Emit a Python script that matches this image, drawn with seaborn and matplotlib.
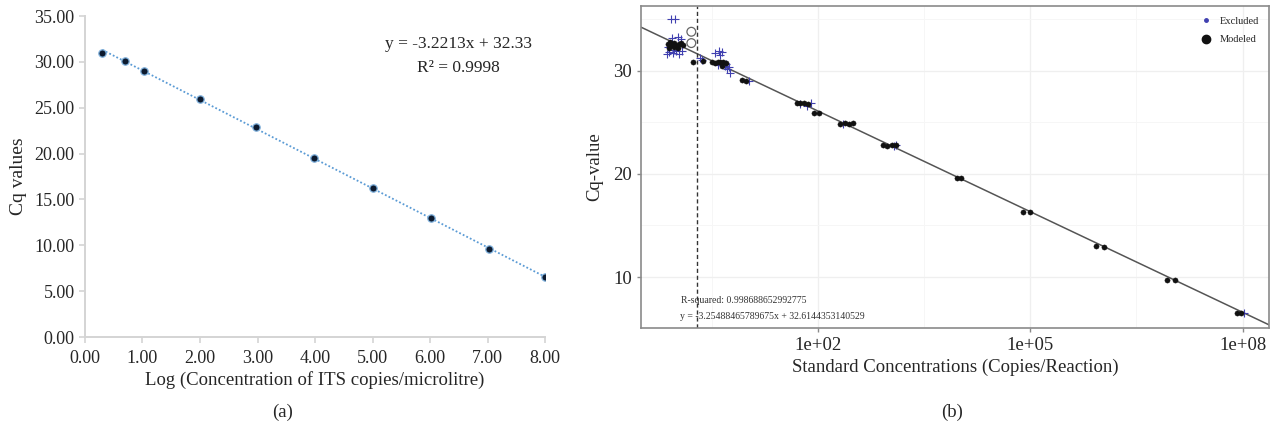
import numpy as np
import pandas as pd
import matplotlib
matplotlib.use("Agg")
import matplotlib.pyplot as plt
from matplotlib.lines import Line2D
from matplotlib.ticker import FixedLocator, NullFormatter
import seaborn as sns

sns.set_theme(style="white")
plt.rcParams['font.family'] = ['Liberation Serif', 'DejaVu Serif']

# (a) standard curve, log concentration vs Cq
log_conc = [0.30, 0.70, 1.03, 2.00, 2.97, 3.98, 5.00, 6.02, 7.02, 8.00]
cq_vals = [31.0, 30.1, 29.05, 25.9, 22.85, 19.55, 16.25, 12.95, 9.62, 6.5]
eq_a = "y = -3.2213x + 32.33"
r2_a = "R² = 0.9998"

# (b) standard curve, log10 of copies/reaction
mod_log = [-0.12, -0.09, -0.06, -0.03, 0.00, 0.03, 0.06, 0.09, -0.10, -0.04, 0.02,
           0.23, 0.38, 0.50, 0.54, 0.58, 0.62, 0.66, 0.70, 0.64, 0.93, 0.98,
           1.70, 1.75, 1.80, 1.86, 1.94, 2.01, 2.31, 2.38, 2.44, 2.50,
           2.92, 2.98, 3.04, 3.10, 3.96, 4.02, 4.90, 5.00, 5.93, 6.04,
           6.93, 7.04, 7.92, 7.98]
mod_cq = [32.6, 32.8, 32.5, 32.7, 32.4, 32.6, 32.7, 32.5, 32.2, 32.3, 32.2,
          30.9, 31.0, 30.9, 30.8, 30.9, 30.85, 30.9, 30.8, 30.5, 29.1, 29.0,
          26.9, 26.85, 26.9, 26.8, 25.9, 25.9, 24.85, 24.9, 24.85, 24.9,
          22.8, 22.75, 22.8, 22.8, 19.6, 19.6, 16.35, 16.3, 13.0, 12.9,
          9.7, 9.7, 6.5, 6.5]
ex_log = [-0.08, -0.02, -0.13, -0.10, -0.05, 0.00, 0.04, -0.12, -0.06, 0.02, 0.06,
          -0.03, 0.08, 0.33, 0.36, 0.55, 0.60, 0.65, 0.62, 0.58, 0.68, 0.70,
          0.72, 0.76, 0.74, 1.02, 1.90, 1.75, 1.85, 2.35, 3.08, 3.10, 8.02]
ex_cq = [35.0, 35.0, 31.6, 31.8, 31.7, 31.9, 31.6, 32.3, 33.2, 33.3, 33.1,
         32.0, 31.9, 31.3, 31.1, 31.7, 31.9, 31.8, 31.5, 30.6, 30.5, 30.7,
         30.2, 29.8, 30.4, 29.0, 26.9, 26.8, 26.6, 24.8, 22.7, 22.8, 6.5]
out_log = [0.21, 0.21]
out_cq = [33.8, 32.7]
slope_b = -3.25488465789675
icept_b = 32.6144353140529
lod_log = 0.29

fig = plt.figure(figsize=(12.72, 4.28), dpi=100)

# ---------- panel (a) ----------
ax1 = fig.add_axes([0.0668, 0.2126, 0.3617, 0.75])
df_a = pd.DataFrame({"x": log_conc, "y": cq_vals})
sns.regplot(data=df_a, x="x", y="y", ax=ax1, ci=None, scatter=False,
            line_kws=dict(color="#5b9bd5", lw=1.3, ls=(0, (1, 1.2))))
sns.scatterplot(data=df_a, x="x", y="y", ax=ax1, color="#0d1a2e", s=28,
                edgecolor="#7fb0dc", linewidth=0.9, zorder=3)
ax1.set_xlim(0, 8)
ax1.set_ylim(0, 35)
ax1.set_xticks(np.arange(0, 9, 1))
ax1.set_yticks(np.arange(0, 36, 5))
ax1.xaxis.set_major_formatter(lambda v, p: f"{v:.2f}")
ax1.yaxis.set_major_formatter(lambda v, p: f"{v:.2f}")
for s in ["top", "right"]:
    ax1.spines[s].set_visible(False)
for s in ["left", "bottom"]:
    ax1.spines[s].set_color("#d4d4d4")
    ax1.spines[s].set_linewidth(1.4)
ax1.tick_params(axis="both", length=4, width=1.2, color="#d4d4d4",
                labelsize=13, labelcolor="#262626", bottom=True, left=True)
ax1.tick_params(axis="x", pad=5)
ax1.set_xlabel("Log (Concentration of ITS copies/microlitre)", fontsize=13.5,
               color="#262626", labelpad=3)
ax1.set_ylabel("Cq values", fontsize=14, color="#262626", labelpad=5)
ax1.text(6.5, 32.0, eq_a, ha="center", va="center", fontsize=12.5, color="#262626")
ax1.text(6.5, 29.3, r2_a, ha="center", va="center", fontsize=12.5, color="#262626")
fig.text(283 / 1272, 1 - 412 / 428, "(a)", ha="center", va="center", fontsize=13.5)

# ---------- panel (b) ----------
ax2 = fig.add_axes([0.504, 0.2336, 0.494, 0.7524])
df_mod = pd.DataFrame({"conc": np.power(10.0, mod_log), "cq": mod_cq})
df_ex = pd.DataFrame({"conc": np.power(10.0, ex_log), "cq": ex_cq})
df_out = pd.DataFrame({"conc": np.power(10.0, out_log), "cq": out_cq})

ax2.set_xscale("log")
ax2.set_xlim(10 ** -0.5, 10 ** 8.38)
ax2.set_ylim(5.05, 36.3)
ax2.set_xticks([1e2, 1e5, 1e8])
ax2.set_xticklabels(["1e+02", "1e+05", "1e+08"])
ax2.xaxis.set_minor_locator(FixedLocator([10 ** 0.5, 10 ** 3.5, 10 ** 6.5]))
ax2.xaxis.set_minor_formatter(NullFormatter())
ax2.set_yticks([10, 20, 30])
ax2.yaxis.set_minor_locator(FixedLocator([15, 25, 35]))
ax2.grid(True, which="major", color="#efefef", lw=0.9)
ax2.grid(True, which="minor", color="#f6f6f6", lw=0.7)
ax2.set_axisbelow(True)

ax2.axline((1.0, icept_b), (1e8, icept_b + 8 * slope_b), color="#555555", lw=1.1, zorder=2)
ax2.axvline(10 ** lod_log, color="#333333", lw=1.0, ls=(0, (3, 2)), zorder=2)

sns.scatterplot(data=df_ex, x="conc", y="cq", ax=ax2, marker="+", color="#4040b0",
                s=26, linewidth=0.8, zorder=3)
sns.scatterplot(data=df_mod, x="conc", y="cq", ax=ax2, color="#111111", s=14,
                edgecolor="#111111", linewidth=0.3, zorder=4)
sns.scatterplot(data=df_out, x="conc", y="cq", ax=ax2, facecolor="none",
                edgecolor="#666666", s=40, linewidth=0.9, zorder=4)

for s in ax2.spines.values():
    s.set_color("#8a8a8a")
    s.set_linewidth(1.2)
ax2.tick_params(axis="both", which="major", length=3, width=1.0, color="#8a8a8a",
                labelsize=13.5, labelcolor="#262626", bottom=True, left=True)
ax2.tick_params(axis="both", which="minor", length=0)
ax2.set_xlabel("Standard Concentrations (Copies/Reaction)", fontsize=13.5,
               color="#262626", labelpad=3)
ax2.set_ylabel("Cq-value", fontsize=13.5, color="#262626", labelpad=7)

ax2.text(0.064, 0.085, "R-squared: 0.998688652992775", transform=ax2.transAxes,
         fontsize=7, color="#333333", va="center")
ax2.text(0.062, 0.035, f"y = {slope_b}x + {icept_b}", transform=ax2.transAxes,
         fontsize=7, color="#333333", va="center")

handles = [Line2D([], [], marker="o", ls="none", color="#4040b0", markersize=2.5),
           Line2D([], [], marker="o", ls="none", color="#111111", markersize=6)]
ax2.legend(handles, ["Excluded", "Modeled"], loc="upper right", frameon=False,
           fontsize=7.5, handletextpad=0.3, borderaxespad=0.6, labelspacing=0.9)

fig.text(952 / 1272, 1 - 412 / 428, "(b)", ha="center", va="center", fontsize=13.5)

fig.savefig("out.png", dpi=100)
